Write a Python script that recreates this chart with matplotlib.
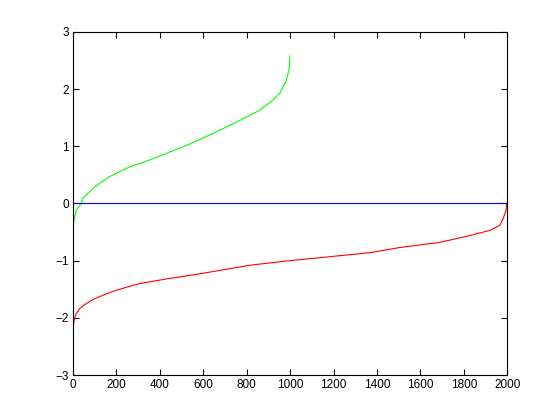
import matplotlib
matplotlib.use('Agg')
import matplotlib.pyplot as plt

# green series (sorted values, 1000 samples)
green_x = [3, 15, 39, 46, 100, 169, 261, 353, 446, 538, 584, 676, 768, 860, 922, 953, 983, 995, 999]
green_y = [-0.35, -0.12, 0.0, 0.09, 0.29, 0.47, 0.64, 0.76, 0.90, 1.04, 1.12, 1.28, 1.45, 1.63, 1.81, 1.93, 2.16, 2.33, 2.58]

# red series (sorted values, 2000 samples)
red_x = [3, 8, 15, 31, 54, 92, 154, 215, 307, 446, 584, 676, 814, 998, 1183, 1367, 1505, 1690, 1828, 1920, 1966, 1981, 1994, 1997]
red_y = [-2.11, -2.01, -1.93, -1.84, -1.77, -1.68, -1.58, -1.50, -1.40, -1.31, -1.23, -1.17, -1.08, -1.00, -0.93, -0.86, -0.77, -0.68, -0.56, -0.47, -0.38, -0.26, -0.12, 0.0]

zero_x = [0, 2000]
zero_y = [0, 0]

xticks = list(range(0, 2001, 200))
yticks = [-3, -2, -1, 0, 1, 2, 3]

plt.rcParams['font.family'] = ['Liberation Sans', 'DejaVu Sans']

fig = plt.figure(figsize=(5.6, 4.2), dpi=100)
ax = fig.add_axes([0.13, 0.107, 0.776, 0.817])

ax.plot(green_x, green_y, color='#00ff00', lw=0.8)
ax.plot(red_x, red_y, color='#ff0000', lw=0.8)
ax.plot(zero_x, zero_y, color='#0000ff', lw=0.8)

ax.set_xlim(0, 2000)
ax.set_ylim(-3, 3)
ax.set_xticks(xticks)
ax.set_yticks(yticks)
ax.tick_params(direction='in', length=4, width=0.8, top=True, right=True, labelsize=8.5, pad=3)
for s in ax.spines.values():
    s.set_linewidth(0.8)

fig.savefig('out.png', dpi=100)
